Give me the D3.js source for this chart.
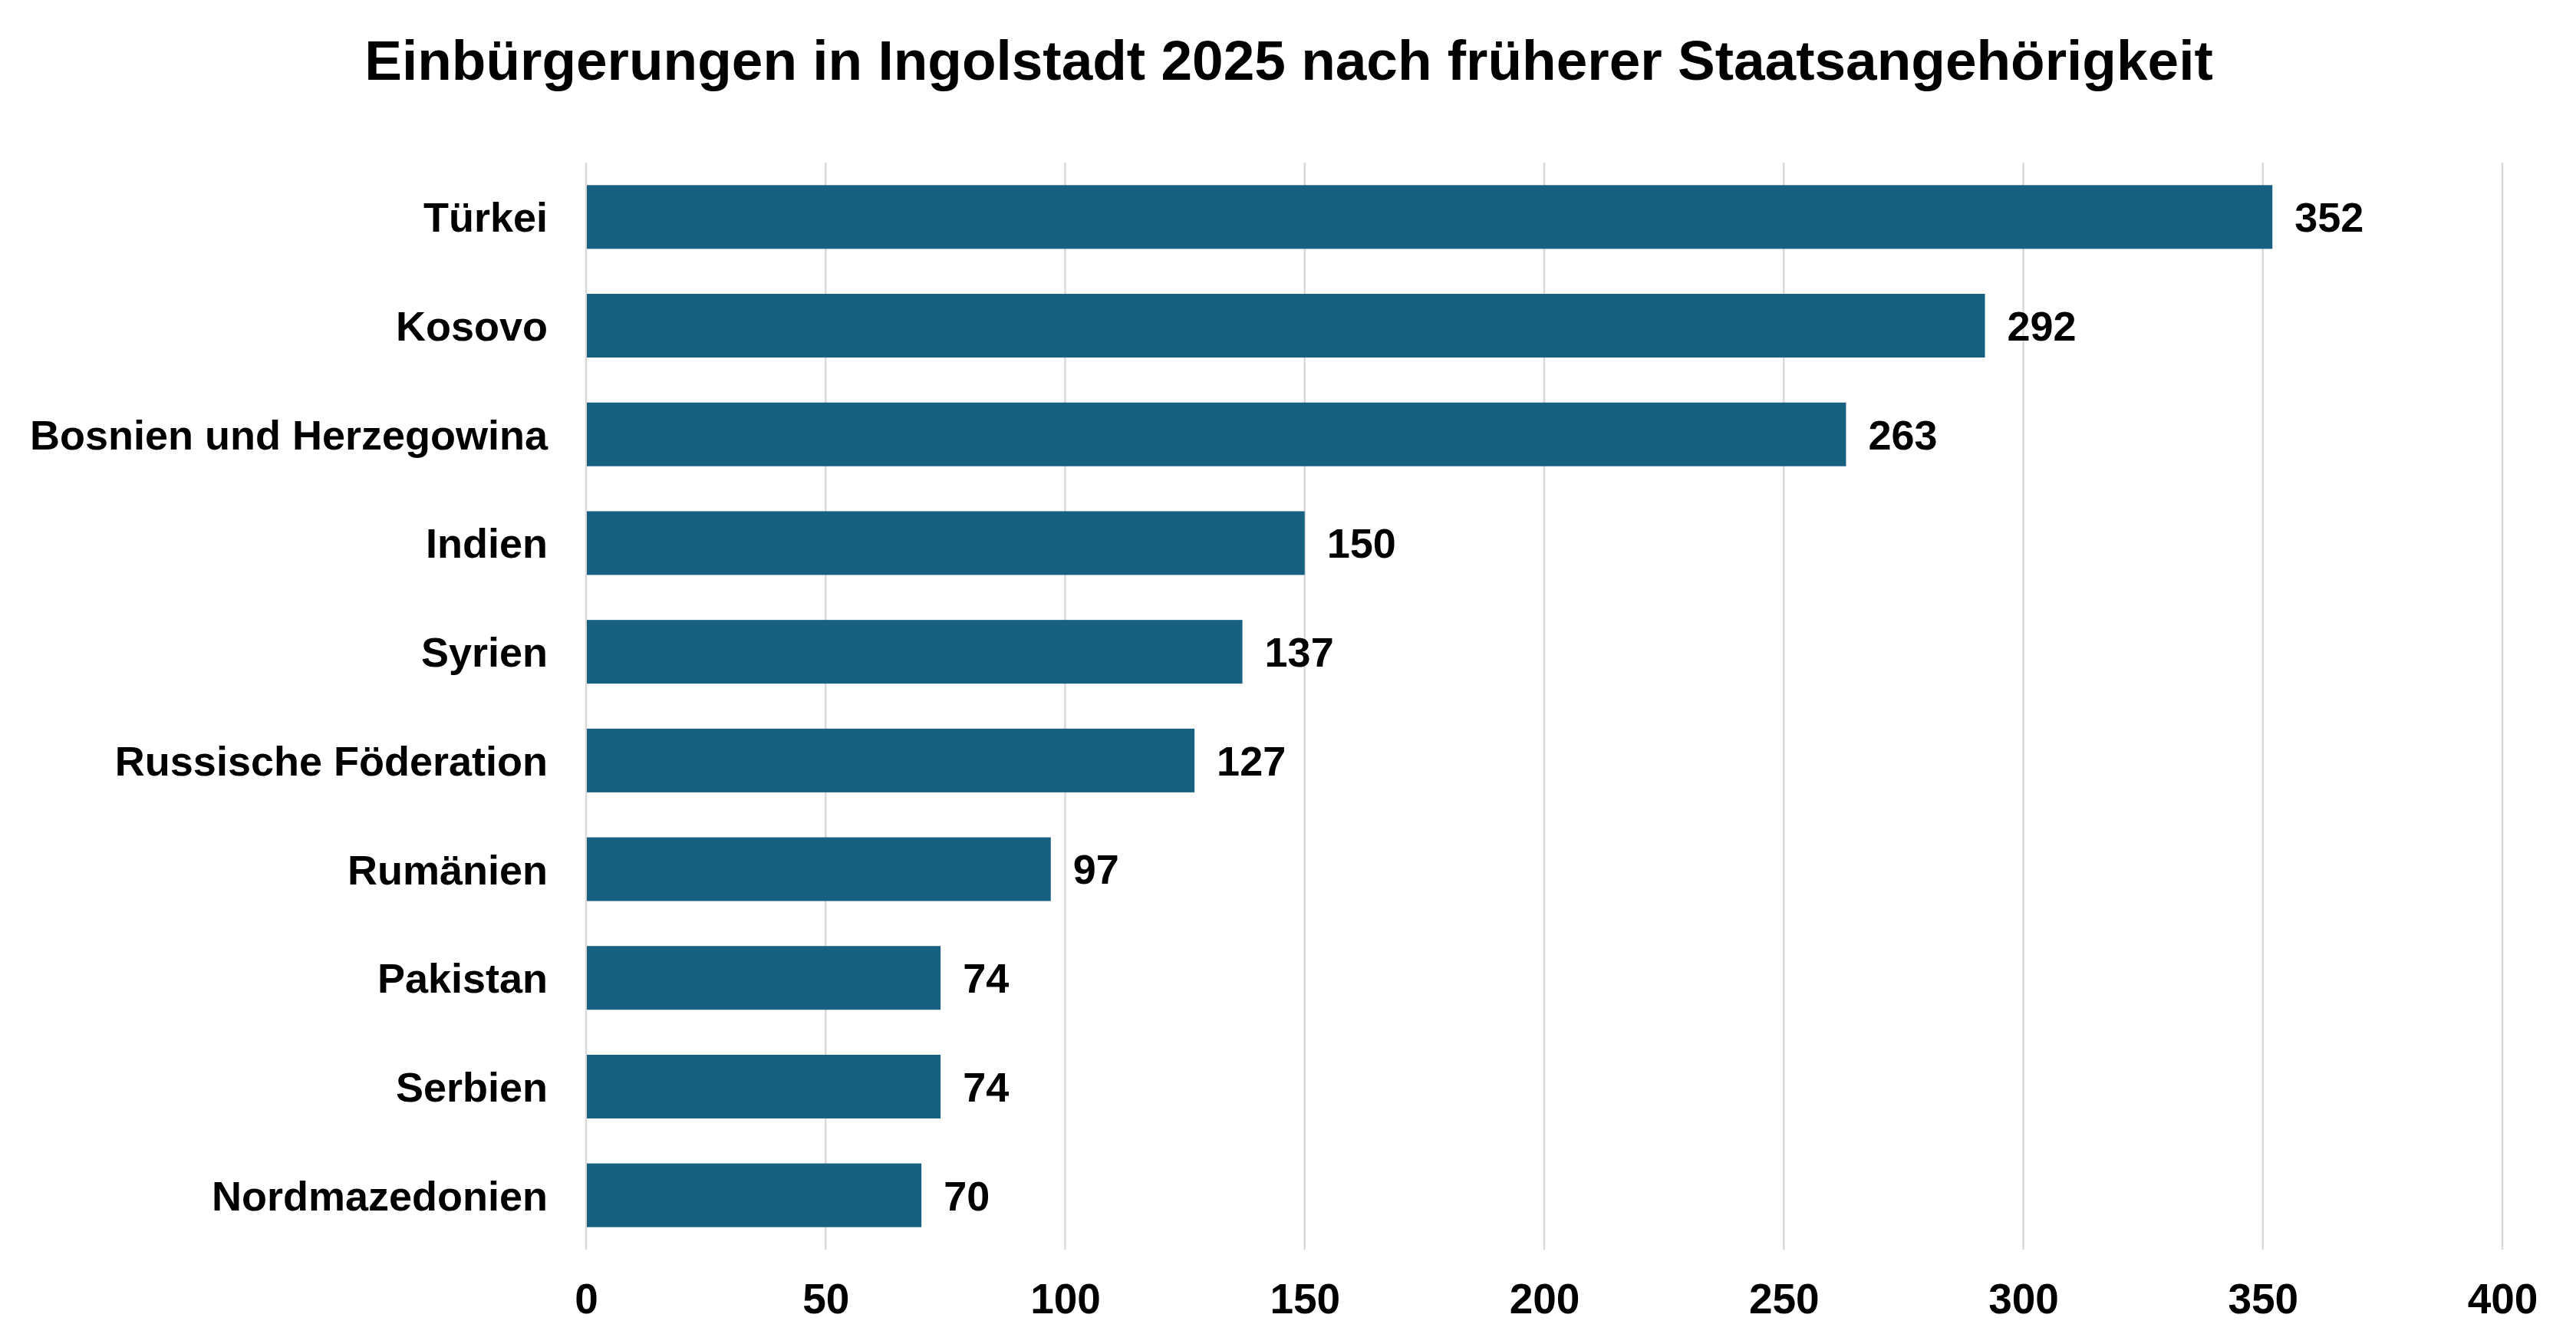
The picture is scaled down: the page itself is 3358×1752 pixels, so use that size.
<!DOCTYPE html>
<html>
<head>
<meta charset="utf-8">
<script src="https://cdn.jsdelivr.net/npm/d3@7"></script>
<style>
  body { margin: 0; background: #fff; }
  text { font-family: "Liberation Sans", Arial, sans-serif; font-weight: bold; fill: #000; }
</style>
</head>
<body>
<div id="chart"></div>
<script>
// data
var countries = ["Türkei", "Kosovo", "Bosnien und Herzegowina", "Indien", "Syrien",
    "Russische Föderation", "Rumänien", "Pakistan", "Serbien", "Nordmazedonien"];
var counts = [352, 292, 263, 150, 137, 127, 97, 74, 74, 70];
var xTicks = [0, 50, 100, 150, 200, 250, 300, 350, 400];
var title = "Einbürgerungen in Ingolstadt 2025 nach früherer Staatsangehörigkeit";

// set the dimensions and margins of the graph
var W = 3358, H = 1752;
var margin = { top: 212, right: 96, bottom: 123, left: 764 },
    width = W - margin.left - margin.right,
    height = H - margin.top - margin.bottom;

var root = d3.select("#chart")
    .append("svg")
    .attr("width", W)
    .attr("height", H);

var svg = root.append("g")
    .attr("transform", "translate(" + margin.left + "," + margin.top + ")");

var rows = countries.map(function (c, i) { return { country: c, value: counts[i] }; });

// scales
var x = d3.scaleLinear()
    .domain([0, 400])
    .range([0, width]);

var y = d3.scaleBand()
    .domain(countries)
    .range([0, height])
    .paddingInner(0.414)
    .paddingOuter(0.207);

// vertical gridlines
svg.selectAll(".grid")
    .data(xTicks)
    .enter().append("line")
    .attr("class", "grid")
    .attr("x1", function (d) { return x(d); })
    .attr("x2", function (d) { return x(d); })
    .attr("y1", 0)
    .attr("y2", height)
    .style("stroke", "#d9d9d9")
    .style("stroke-width", 2.5);

// bars
svg.selectAll(".bar")
    .data(rows)
    .enter().append("rect")
    .attr("class", "bar")
    .attr("x", x(0) + 1)
    .attr("y", function (d) { return y(d.country); })
    .attr("width", function (d) { return x(d.value) - x(0) - 1; })
    .attr("height", y.bandwidth())
    .style("fill", "#186080");

// value labels
svg.selectAll(".val")
    .data(rows)
    .enter().append("text")
    .attr("class", "val")
    .attr("x", function (d) { return x(d.value) + 29; })
    .attr("y", function (d) { return y(d.country) + y.bandwidth() / 2; })
    .attr("dy", "0.36em")
    .style("font-size", "54px")
    .text(function (d) { return d.value; });

// y axis (labels only)
var yAxis = svg.append("g")
    .call(d3.axisLeft(y).tickSize(0).tickPadding(50));
yAxis.select(".domain").remove();
yAxis.selectAll("text")
    .attr("dy", "0.36em")
    .style("font-size", "54px")
    .style("font-family", "'Liberation Sans', Arial, sans-serif")
    .style("font-weight", "bold");

// x axis (labels only)
var xAxis = svg.append("g")
    .attr("transform", "translate(0," + height + ")")
    .call(d3.axisBottom(x).tickValues(xTicks).tickSize(0).tickPadding(44));
xAxis.select(".domain").remove();
xAxis.selectAll("text")
    .attr("dy", "0.71em")
    .style("font-size", "55px")
    .style("font-family", "'Liberation Sans', Arial, sans-serif")
    .style("font-weight", "bold");

// title
root.append("text")
    .attr("x", 1680)
    .attr("y", 104)
    .style("text-anchor", "middle")
    .style("font-size", "73px")
    .text(title);
</script>
</body>
</html>
